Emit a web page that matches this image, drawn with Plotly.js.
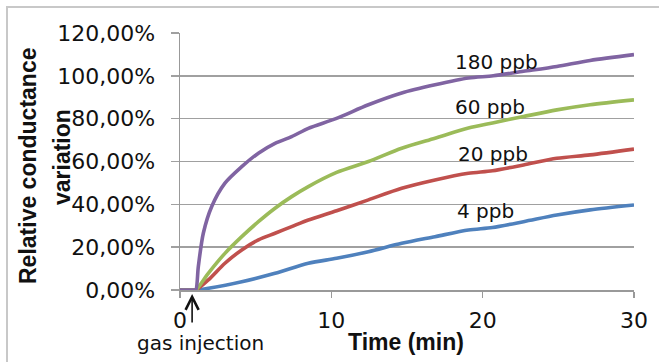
<!DOCTYPE html>
<html>
<head>
<meta charset="utf-8">
<script src="https://cdn.plot.ly/plotly-3.0.1.min.js"></script>
<style>html,body{margin:0;padding:0;background:#fff;}#chart{width:659px;height:362px;}</style>
</head>
<body>
<div id="chart"></div>
<script>
// ---- data ----
var t180 = [0, 0.9, 1.04, 1.21, 1.54, 2.09, 2.97, 4.08, 5.18, 6.28, 7.38, 8.48, 10.3, 12.45, 14.65, 16.85, 19.06, 20.7, 22.7, 24.9, 27.1, 30];
var v180 = [0, 0, 0, 10.9, 26.5, 38.9, 49.9, 57.6, 63.9, 68.5, 71.6, 75.5, 80.0, 86.5, 92.0, 95.8, 99.0, 100.0, 102.1, 104.4, 107.2, 109.9];

var t60 = [0, 0.9, 1.04, 1.87, 2.97, 4.08, 5.18, 6.28, 7.38, 8.48, 10.35, 12.45, 14.65, 16.85, 19.06, 20.65, 22.7, 24.9, 27.1, 30];
var v60 = [0, 0, 0, 7.8, 17.1, 24.9, 31.9, 38.2, 43.6, 48.3, 54.9, 60.0, 66.2, 70.9, 75.6, 78.0, 81.0, 84.1, 86.5, 88.8];

var t20 = [0, 0.9, 1.04, 1.87, 2.97, 4.08, 5.18, 6.28, 7.38, 8.48, 10.35, 12.45, 14.65, 16.85, 19.06, 20.65, 22.7, 24.9, 27.1, 30];
var v20 = [0, 0, 0, 4.7, 12.5, 18.7, 23.4, 26.5, 29.6, 32.7, 37.0, 42.1, 47.5, 51.4, 54.5, 55.7, 58.4, 61.5, 63.1, 65.8];

var t4 = [0, 0.9, 1.04, 1.87, 4.08, 6.28, 8.48, 10.35, 12.45, 14.65, 16.85, 19.06, 20.65, 22.7, 24.9, 27.1, 30];
var v4 = [0, 0, 0, 0.8, 3.9, 7.8, 12.5, 14.8, 17.9, 21.8, 24.9, 28.0, 29.2, 31.9, 35.0, 37.4, 39.7];

var seriesNames = ["4 ppb", "20 ppb", "60 ppb", "180 ppb"];
var seriesColors = ["#4F81BD", "#C0504D", "#9BBB59", "#8064A2"];
var labelX = [20.2, 20.7, 20.5, 20.9];
var labelY = [36.9, 63.6, 85.6, 106.6];

var yTickVals = [0, 20, 40, 60, 80, 100, 120];
var yTickText = ["0,00%", "20,00%", "40,00%", "60,00%", "80,00%", "100,00%", "120,00%"];
var xTickVals = [0, 10, 20, 30];
var xTickText = ["0", "10", "20", "30"];

var injectionTime = 0.8;

// ---- build ----
var ts = [t4, t20, t60, t180];
var vs = [v4, v20, v60, v180];
var traces = ts.map(function (t, i) {
  return {
    x: t, y: vs[i], type: "scatter", mode: "lines", name: seriesNames[i],
    line: {color: seriesColors[i], width: 3.6, shape: "spline", smoothing: 0.8}, hoverinfo: "skip"
  };
});

var regFont = "DejaVu Sans, Verdana, sans-serif";
var boldFont = "Liberation Sans, Arial, sans-serif";

var annotations = seriesNames.map(function (n, i) {
  return {x: labelX[i], y: labelY[i], xref: "x", yref: "y", text: n, showarrow: false,
    font: {family: regFont, size: 20, color: "#111"}, xanchor: "center", yanchor: "middle"};
});

// y axis title (two lines)
annotations.push({xref: "paper", yref: "paper", x: (28 - 180) / 454, y: (290 - 166) / 257,
  text: "Relative conductance", textangle: -90, showarrow: false,
  font: {family: boldFont, size: 23, color: "#111", weight: "bold"}, xanchor: "center", yanchor: "middle"});
annotations.push({xref: "paper", yref: "paper", x: (62 - 180) / 454, y: (290 - 157) / 257,
  text: "variation", textangle: -90, showarrow: false,
  font: {family: boldFont, size: 23, color: "#111", weight: "bold"}, xanchor: "center", yanchor: "middle"});
// x axis title
annotations.push({xref: "paper", yref: "paper", x: (406 - 180) / 454, y: (290 - 342) / 257,
  text: "Time (min)", showarrow: false,
  font: {family: boldFont, size: 23, color: "#111", weight: "bold"}, xanchor: "center", yanchor: "middle"});
// gas injection text
annotations.push({xref: "paper", yref: "paper", x: (200 - 180) / 454, y: (290 - 343) / 257,
  text: "gas injection", showarrow: false,
  font: {family: regFont, size: 20, color: "#111"}, xanchor: "center", yanchor: "middle"});
// arrow
annotations.push({xref: "x", yref: "paper", x: injectionTime, y: (290 - 294) / 257,
  text: "", showarrow: true, ax: 0, ay: 30, arrowhead: 5, arrowsize: 1.6, arrowwidth: 1.6,
  arrowcolor: "#111", standoff: 0});

var layout = {
  width: 659, height: 362,
  margin: {l: 180, r: 25, t: 33, b: 72, pad: 0},
  paper_bgcolor: "#fff", plot_bgcolor: "#fff",
  showlegend: false,
  font: {family: regFont, color: "#111"},
  xaxis: {
    range: [0, 30], tickvals: xTickVals, ticktext: xTickText,
    showgrid: false, zeroline: false, showline: true, linecolor: "#999", linewidth: 1.5,
    ticks: "outside", ticklen: 6, tickcolor: "#999", tickwidth: 1.5,
    tickfont: {family: regFont, size: 22, color: "#111"}, ticklabelstandoff: 4,
    fixedrange: true
  },
  yaxis: {
    range: [0, 120], tickvals: yTickVals, ticktext: yTickText,
    showgrid: true, gridcolor: "#a0a0a0", gridwidth: 1.5,
    zeroline: false, showline: true, linecolor: "#999", linewidth: 1.5,
    ticks: "outside", ticklen: 8, tickcolor: "#a0a0a0", tickwidth: 1.5,
    tickfont: {family: regFont, size: 22, color: "#111"}, ticklabelstandoff: 11,
    fixedrange: true
  },
  shapes: [{type: "rect", xref: "paper", yref: "paper",
    x0: (7 - 180) / 454, x1: 1.2, y0: -0.5, y1: (290 - 7) / 257,
    line: {color: "#c8c8c8", width: 2}, fillcolor: "rgba(0,0,0,0)", layer: "below"}],
  annotations: annotations
};

Plotly.newPlot("chart", traces, layout, {staticPlot: true, displayModeBar: false});
</script>
</body>
</html>
